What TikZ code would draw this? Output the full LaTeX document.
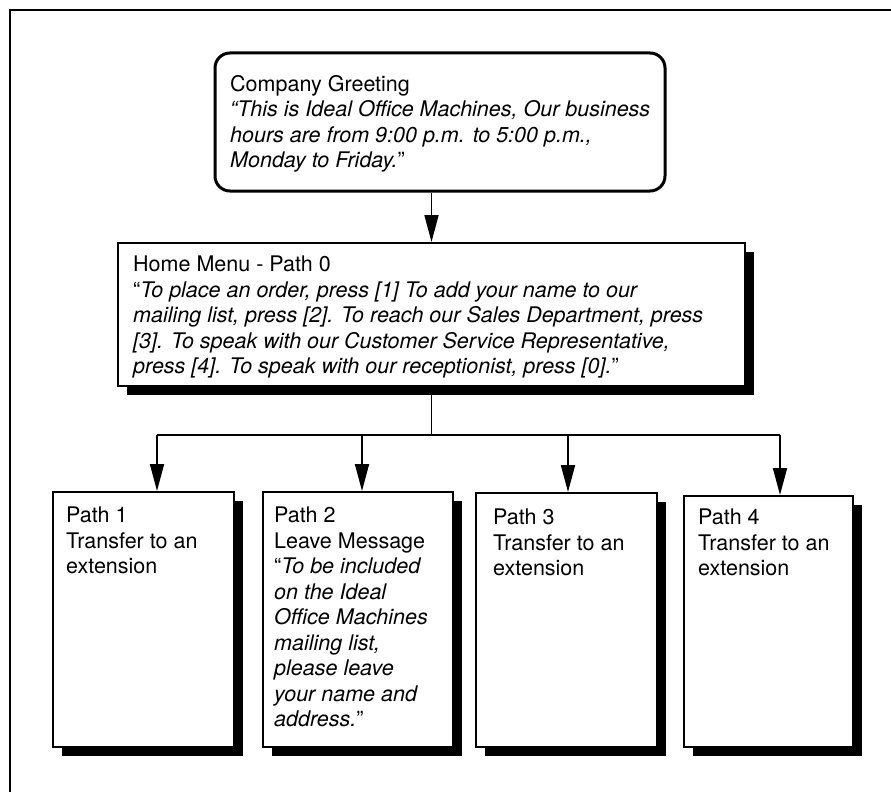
\documentclass[tikz,border=0pt]{standalone}
\usepackage{fontspec}
\setmainfont{TeX Gyre Heros}
\usetikzlibrary{arrows.meta, shadows, positioning}

\begin{document}
\begin{tikzpicture}[x=1pt, y=-1pt,
    every node/.style={font=\fontsize{21.5}{25.5}\selectfont},
    greetbox/.style={draw, line width=3pt, rounded corners=15pt, fill=white},
    pathbox/.style={draw, line width=2pt, fill=white,
        drop shadow={shadow xshift=8.5pt, shadow yshift=-9pt, shadow scale=1, opacity=1, fill=black}},
    boxtext/.style={anchor=north west, inner sep=0pt, align=left},
    link/.style={line width=1.8pt, -{Triangle[length=27pt, width=14pt]}}]

            \useasboundingbox (0,0) rectangle (891,792);
            % Frame
            \draw[line width=2.4pt] (10,792) -- (10,10) -- (891,10);

            % Boxes
            \node[greetbox, minimum width=450pt, minimum height=138pt] (greet) at (440,122) {};
            \node[pathbox, minimum width=627pt, minimum height=143pt] (menu) at (431.5,314.5) {};
            \node[pathbox, minimum width=181pt, minimum height=255pt] (p1) at (143.5,619.5) {};
            \node[pathbox, minimum width=190pt, minimum height=255pt] (p2) at (358,619.5) {};
            \node[pathbox, minimum width=181pt, minimum height=254pt] (p3) at (566.5,620) {};
            \node[pathbox, minimum width=169pt, minimum height=251pt] (p4) at (768.5,621.5) {};

            % Texts
            \node[boxtext] (greettext) at (230,75) {Company Greeting\\
                \textit{``This is Ideal Office Machines, Our business}\\
                \textit{hours are from 9:00 p.m. to 5:00 p.m.,}\\
                \textit{Monday to Friday.}''};
            \node[boxtext] (menutext) at (133,256) {Home Menu - Path 0\\
                ``\textit{To place an order, press [1] To add your name to our}\\
                \textit{mailing list, press [2]. To reach our Sales Department, press}\\
                \textit{[3]. To speak with our Customer Service Representative,}\\
                \textit{press [4]. To speak with our receptionist, press [0].}''};
            \node[boxtext] (p1text) at (66,507) {Path 1\\Transfer to an\\extension};
            \node[boxtext] (p2text) at (274,507) {Path 2\\Leave Message\\
                ``\textit{To be included}\\\textit{on the Ideal}\\\textit{Office Machines}\\
                \textit{mailing list,}\\\textit{please leave}\\\textit{your name and}\\
                \textit{address.}''};
            \node[boxtext] (p3text) at (493,509) {Path 3\\Transfer to an\\extension};
            \node[boxtext] (p4text) at (698,509) {Path 4\\Transfer to an\\extension};

            % Connectors
            \coordinate (bus) at (431.5,435);
            \coordinate (t1) at (157,435);
            \coordinate (t2) at (362,435);
            \coordinate (t3) at (568,435);
            \coordinate (t4) at (780,435);
            \draw[link] (menu.north |- greet.south) -- (menu.north);
            \draw[line width=1.8pt] (menu.south) -- (bus);
            \draw[line width=1.8pt] (t1) -- (t4);
            \draw[link] (t1) -- (t1 |- p1.north);
            \draw[link] (t2) -- (t2 |- p2.north);
            \draw[link] (t3) -- (t3 |- p3.north);
            \draw[link] (t4) -- (t4 |- p4.north);
\end{tikzpicture}
\end{document}
